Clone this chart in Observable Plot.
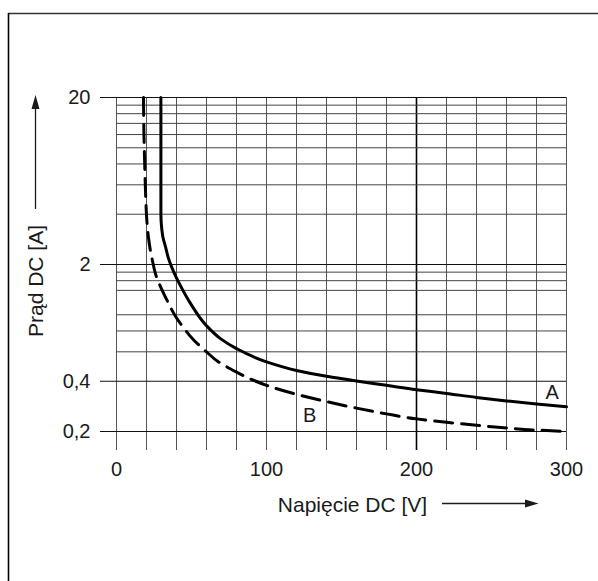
<!DOCTYPE html>
<html>
<head>
<meta charset="utf-8">
<script src="https://cdn.jsdelivr.net/npm/d3@7"></script>
<script src="https://cdn.jsdelivr.net/npm/@observablehq/plot@0.6"></script>
<style>
  html, body { margin: 0; padding: 0; background: #fff; }
  #chart { position: relative; width: 598px; height: 581px; }
  svg { display: block; }
</style>
</head>
<body>
<div id="chart"></div>
<script>
// ---- data ----
const voltageA = [29.6, 29.6, 30.0, 31.0, 32.7, 34.5, 36.8, 39.5, 42.7, 49.3, 60, 69.3, 80, 100, 120, 140, 160, 180, 200, 220, 240, 260, 280, 300];
const currentA = [20, 4.0, 3.4, 2.9, 2.55, 2.2, 1.93, 1.7, 1.49, 1.17, 0.86, 0.72, 0.627, 0.522, 0.464, 0.428, 0.401, 0.378, 0.356, 0.338, 0.320, 0.305, 0.292, 0.281];

const voltageB = [18.0, 18.3, 18.8, 19.5, 20.3, 21.3, 22.5, 24.0, 26.5, 30.0, 34.5, 39.3, 45, 51.6, 60, 67.6, 79.8, 90, 100, 120, 140, 160, 180, 200, 220, 240, 260, 280, 300];
const currentB = [20, 12, 8, 5, 3.6, 2.9, 2.45, 2.1, 1.7, 1.43, 1.18, 0.98, 0.83, 0.704, 0.60, 0.525, 0.455, 0.41, 0.378, 0.334, 0.302, 0.276, 0.255, 0.238, 0.227, 0.218, 0.210, 0.204, 0.200];

const xGrid = [0, 20, 40, 60, 80, 100, 120, 140, 160, 180, 200, 220, 240, 260, 280, 300];
const xMajor = [200];
const yGrid = [0.6, 0.8, 1, 1.4, 1.6, 1.8, 4, 6, 8, 10, 12, 14, 16, 18];
const xTicks = [0, 100, 200, 300];
const xTickLabels = ["0", "100", "200", "300"];
const yTicks = [0.2, 0.4, 2, 20];
const yTickLabels = ["0,2", "0,4", "2", "20"];
const seriesNames = ["A", "B"];
const seriesLabelX = [290.5, 128.7];
const seriesLabelY = [0.343, 0.250];
const xLabel = "Napięcie DC [V]";
const yLabel = "Prąd DC [A]";

// ---- tables ----
const rowsA = voltageA.map((v, i) => ({x: v, y: currentA[i]}));
const rowsB = voltageB.map((v, i) => ({x: v, y: currentB[i]}));
const xTickRows = xTicks.map((v, i) => ({x: v, t: xTickLabels[i]}));
const yTickRows = yTicks.map((v, i) => ({y: v, t: yTickLabels[i]}));
const seriesRows = seriesNames.map((n, i) => ({x: seriesLabelX[i], y: seriesLabelY[i], t: n}));

const FONT = "'Liberation Sans', Arial, Helvetica, sans-serif";
const INK = "#1a1a1a";

const plot = Plot.plot({
  width: 598,
  height: 581,
  marginLeft: 116,
  marginRight: 32,
  marginTop: 97,
  marginBottom: 150,
  style: {fontFamily: FONT, background: "#fff", color: INK},
  x: {type: "linear", domain: [0, 300], axis: null},
  y: {type: "log", domain: [0.2, 20], axis: null},
  marks: [
    Plot.ruleX(xGrid.filter(d => !xMajor.includes(d)), {x: d => d, insetBottom: -19, stroke: "#555", strokeWidth: 1}),
    Plot.ruleX(xMajor, {x: d => d, insetBottom: -19, stroke: "#000", strokeWidth: 1.6}),
    Plot.ruleY(yGrid, {y: d => d, stroke: "#444", strokeWidth: 1}),
    Plot.ruleY(yTicks, {y: d => d, insetLeft: -16, stroke: "#111", strokeWidth: 1.2}),
    Plot.line(rowsA, {x: "x", y: "y", curve: "monotone-y", stroke: "#000", strokeWidth: 3}),
    Plot.line(rowsB, {x: "x", y: "y", curve: "monotone-y", stroke: "#000", strokeWidth: 3, strokeDasharray: "18,9"}),
    Plot.text(xTickRows, {x: "x", y: () => 0.2, text: "t", dy: 38, fontSize: 20, fill: INK, textAnchor: "middle"}),
    Plot.text(yTickRows, {x: () => 0, y: "y", text: "t", dx: -26, fontSize: 20, fill: INK, textAnchor: "end"}),
    Plot.text(seriesRows, {x: "x", y: "y", text: "t", fontSize: 20, fill: INK})
  ]
});

const svg = d3.select(plot);
// frame borders (top and left)
svg.append("line").attr("x1", 8).attr("x2", 598).attr("y1", 13.5).attr("y2", 13.5).attr("stroke", "#333").attr("stroke-width", 1.6);
svg.append("line").attr("x1", 8.5).attr("x2", 8.5).attr("y1", 13).attr("y2", 581).attr("stroke", "#000").attr("stroke-width", 1.6);

// x axis title + arrow
svg.append("text").attr("x", 352.5).attr("y", 511.5).attr("text-anchor", "middle")
  .attr("font-size", 21).attr("font-family", FONT).attr("fill", INK).text(xLabel);
svg.append("line").attr("x1", 442).attr("x2", 528).attr("y1", 503.5).attr("y2", 503.5).attr("stroke", INK).attr("stroke-width", 1.3);
svg.append("path").attr("d", "M538.5,503.5 L525,499.5 L525,507.5 Z").attr("fill", INK);

// y axis title + arrow
svg.append("text").attr("transform", "translate(43,281) rotate(-90)").attr("text-anchor", "middle")
  .attr("font-size", 21).attr("font-family", FONT).attr("fill", INK).text(yLabel);
svg.append("line").attr("x1", 35.5).attr("x2", 35.5).attr("y1", 209).attr("y2", 106).attr("stroke", INK).attr("stroke-width", 1.3);
svg.append("path").attr("d", "M35.5,95 L31.5,109 L39.5,109 Z").attr("fill", INK);

document.getElementById("chart").appendChild(plot);
</script>
</body>
</html>
